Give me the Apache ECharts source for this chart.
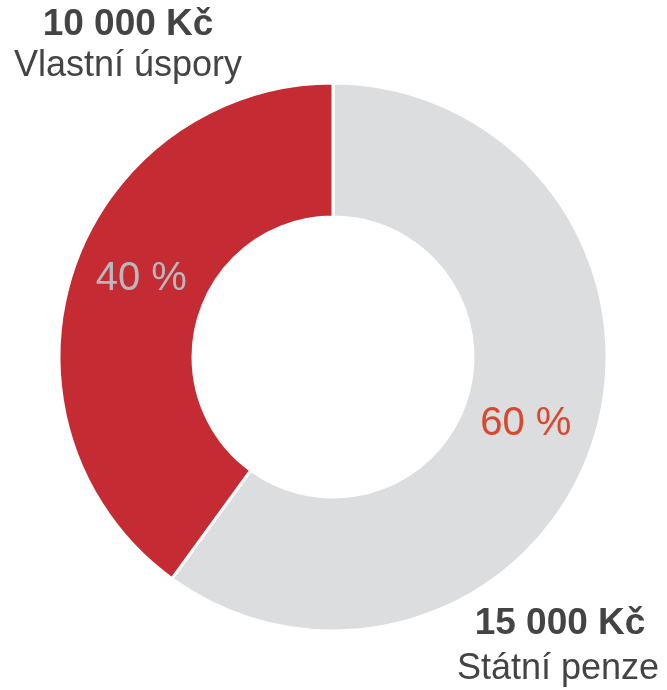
<!DOCTYPE html>
<html>
<head>
<meta charset="utf-8">
<script src="https://cdn.jsdelivr.net/npm/echarts@6/dist/echarts.min.js"></script>
<style>
  html, body { margin: 0; padding: 0; background: #fff; }
  #chart { width: 667px; height: 690px; }
</style>
</head>
<body>
<div id="chart"></div>
<script>
// data
const names = ['Státní penze', 'Vlastní úspory']
const amounts = ['15 000 Kč', '10 000 Kč']
const values = [60, 40]
const sliceColors = ['#dcdddf', '#c42b33']
const labelColors = ['#d9482c', '#b9b9bd']
// nudges for the inner % labels
const labelOffsets = [[-7, 2], [8, -13]]

const chart = echarts.init(document.getElementById('chart'))
const font = 'Liberation Sans, Arial, sans-serif'

const cornerText = (x, y, text, bold) => ({
  type: 'text',
  style: {
    x: x,
    y: y,
    text: text,
    font: (bold ? 'bold 37px ' : '36px ') + font,
    fill: '#444',
    textAlign: 'center',
    textVerticalAlign: 'middle'
  }
})

const option = {
  animation: false,
  graphic: [
    cornerText(128, 25, amounts[1], true),
    cornerText(128, 66, names[1], false),
    cornerText(560, 624, amounts[0], true),
    cornerText(558, 669, names[0], false)
  ],
  series: [{
    type: 'pie',
    center: [333, 357],
    radius: [140, 274],
    startAngle: 90,
    clockwise: true,
    silent: true,
    itemStyle: { borderColor: '#fff', borderWidth: 3 },
    label: {
      show: true,
      position: 'inside',
      formatter: p => p.value + ' %',
      fontFamily: font,
      fontSize: 40
    },
    labelLine: { show: false },
    data: values.map((v, i) => ({
      name: names[i],
      value: v,
      itemStyle: { color: sliceColors[i] },
      label: { color: labelColors[i], offset: labelOffsets[i] }
    }))
  }]
}
chart.setOption(option)
</script>
</body>
</html>
